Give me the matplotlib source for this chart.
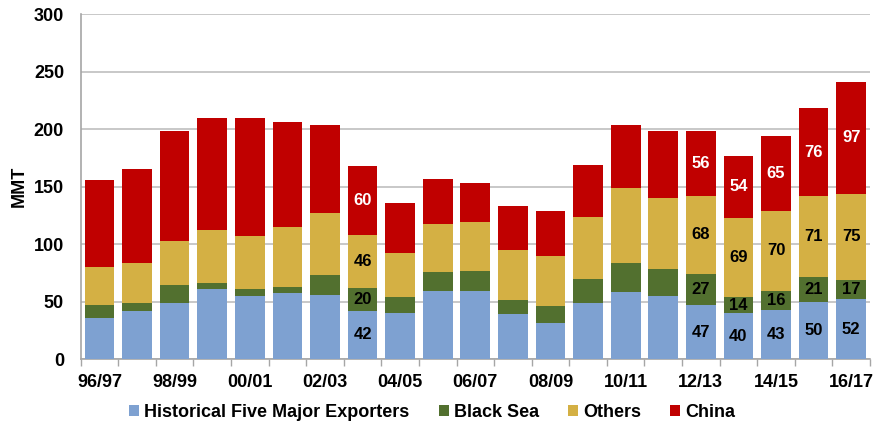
import matplotlib
matplotlib.use("Agg")
import matplotlib.pyplot as plt
import numpy as np
from matplotlib.patches import Patch

plt.rcParams['font.family'] = ['Liberation Sans', 'DejaVu Sans']

years = ["96/97", "97/98", "98/99", "99/00", "00/01", "01/02", "02/03", "03/04",
         "04/05", "05/06", "06/07", "07/08", "08/09", "09/10", "10/11", "11/12",
         "12/13", "13/14", "14/15", "15/16", "16/17"]
five_major = [35.4, 41.7, 48.7, 60.6, 54.8, 57.4, 55.7, 42, 40.0, 58.8, 59.1, 38.8,
              31.6, 48.4, 58.3, 55.1, 47, 40, 43, 50, 52]
black_sea = [11.8, 7.0, 15.9, 5.5, 6.1, 5.5, 17.6, 20, 13.9, 17.1, 17.7, 12.8,
             14.8, 21.5, 25.5, 22.9, 27, 14, 16, 21, 17]
others = [32.5, 34.8, 38.0, 46.1, 46.3, 51.6, 53.7, 46, 38.3, 41.5, 42.0, 43.5,
          43.2, 53.3, 64.9, 61.7, 68, 69, 70, 71, 75]
china = [76.3, 81.5, 96.0, 97.8, 102.8, 91.9, 76.5, 60, 43.5, 38.8, 34.2, 38.2,
         38.8, 45.5, 54.5, 58.9, 56, 54, 65, 76, 97]
labeled = ["03/04", "12/13", "13/14", "14/15", "15/16", "16/17"]

series = [("Historical Five Major Exporters", five_major, "#7EA1D1", "black"),
          ("Black Sea", black_sea, "#52702F", "black"),
          ("Others", others, "#D4B044", "black"),
          ("China", china, "#C00000", "white")]

fig = plt.figure(figsize=(8.77, 4.30), dpi=100)
ax = fig.add_axes([0.092, 0.165, 0.900, 0.802])

x = np.arange(len(years))
bottom = np.zeros(len(years))
handles = []
for name, vals, col, tcol in series:
    vals = np.array(vals, dtype=float)
    ax.bar(x, vals, bottom=bottom, width=0.79, color=col, edgecolor='none', zorder=3)
    for i, yr in enumerate(years):
        if yr in labeled:
            ax.text(x[i], bottom[i] + vals[i] / 2, f"{vals[i]:.0f}", ha='center', va='center',
                    fontsize=12, fontweight='bold', color=tcol, zorder=4)
    bottom += vals
    handles.append(Patch(facecolor=col, edgecolor='none', label=name))

ax.set_xlim(-0.5, len(years) - 0.5)
ax.set_ylim(0, 300)
ax.set_yticks(np.arange(0, 301, 50))
ax.yaxis.grid(True, color='#BFBFBF', linewidth=1.2, zorder=0)
ax.set_axisbelow(True)
ax.tick_params(axis='y', length=0, pad=12, labelsize=13)
for lab in ax.get_yticklabels():
    lab.set_fontweight('bold')

ax.set_xticks(np.arange(-0.5, len(years), 1.0))
ax.set_xticklabels([])
ax.tick_params(axis='x', which='major', length=5, color='#A6A6A6', width=1)
ax.set_xticks(x[::2], minor=True)
ax.set_xticklabels(years[::2], minor=True, fontsize=13, fontweight='bold')
ax.tick_params(axis='x', which='minor', length=0, pad=11)

for s in ['top', 'right']:
    ax.spines[s].set_visible(False)
for s in ['left', 'bottom']:
    ax.spines[s].set_color('#A6A6A6')
    ax.spines[s].set_linewidth(1.2)

ax.set_ylabel("MMT", fontsize=13, fontweight='bold', labelpad=4)

fig.legend(handles=handles, loc='center', bbox_to_anchor=(0.493, 0.04), ncol=4,
           frameon=False, prop={'weight': 'bold', 'size': 13},
           handlelength=0.55, handleheight=0.55, handletextpad=0.3, columnspacing=1.6)

fig.savefig("out.png", dpi=100)
